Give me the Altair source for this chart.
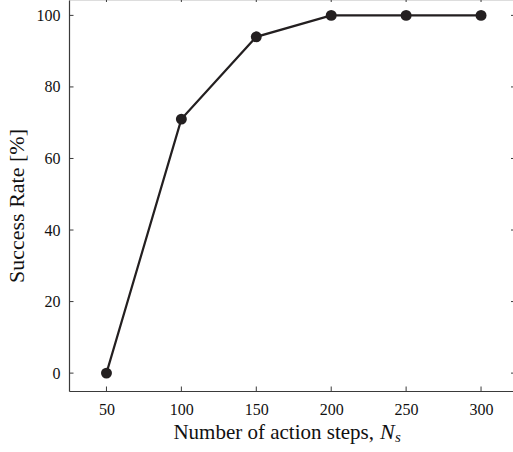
import altair as alt
import pandas as pd

steps = [50, 100, 150, 200, 250, 300]
success = [0, 71, 94, 100, 100, 100]
x_ticks = [50, 100, 150, 200, 250, 300]
y_ticks = [0, 20, 40, 60, 80, 100]
x_title_main = ["Number of action steps,"]
x_title_sym = ["N"]
x_title_sub = ["s"]
y_title = ["Success Rate [%]"]

W, H = 444, 391
FONT = "Liberation Serif"
INK = "#231f20"
AX = "#3a3a3a"

df = pd.DataFrame({"steps": steps, "success": success})
xt = pd.DataFrame({"steps": x_ticks})
yt = pd.DataFrame({"success": y_ticks})

xs = alt.Scale(domain=[25, 321.33], nice=False, zero=False)
ys = alt.Scale(domain=[-5, 104.3], nice=False, zero=False)

x_axis = alt.Axis(values=x_ticks, grid=False, ticks=False, tickSize=0, domainColor=AX, domainWidth=1.2,
                  labelFont=FONT, labelFontSize=16, labelColor="#111", labelPadding=10, title=None,
                  labelFlush=False)
y_axis = alt.Axis(values=y_ticks, grid=False, ticks=False, tickSize=0, domainColor=AX, domainWidth=1.2,
                  labelFont=FONT, labelFontSize=16, labelColor="#111", labelPadding=9, title=None,
                  labelFlush=False)

X = alt.X("steps:Q", scale=xs, axis=x_axis)
Y = alt.Y("success:Q", scale=ys, axis=y_axis)

base = alt.Chart(df)
line = base.mark_line(color=INK, strokeWidth=2.2).encode(x=X, y=Y)
pts = base.mark_circle(color=INK, size=120, opacity=1).encode(x=X, y=Y)

tick_len = 4.5
bt = alt.Chart(xt).mark_rule(color=AX, strokeWidth=1).encode(
    x=X, y=alt.value(H - tick_len), y2=alt.value(H))
tt = alt.Chart(xt).mark_rule(color=AX, strokeWidth=1).encode(
    x=X, y=alt.value(0), y2=alt.value(2))
lt = alt.Chart(yt).mark_rule(color=AX, strokeWidth=1).encode(
    y=Y, x=alt.value(0), x2=alt.value(tick_len))
rt = alt.Chart(yt).mark_rule(color=AX, strokeWidth=1).encode(
    y=Y, x=alt.value(W - 2), x2=alt.value(W))

t_main = alt.Chart(pd.DataFrame({"t": x_title_main})).mark_text(
    font=FONT, fontSize=21, color="#111", align="right", baseline="alphabetic").encode(
    text="t:N", x=alt.value(305), y=alt.value(439))
t_sym = alt.Chart(pd.DataFrame({"t": x_title_sym})).mark_text(
    font=FONT, fontSize=22, fontStyle="italic", color="#111", align="left", baseline="alphabetic").encode(
    text="t:N", x=alt.value(311), y=alt.value(439))
t_sub = alt.Chart(pd.DataFrame({"t": x_title_sub})).mark_text(
    font=FONT, fontSize=15, fontStyle="italic", color="#111", align="left", baseline="alphabetic").encode(
    text="t:N", x=alt.value(326), y=alt.value(441.5))
t_y = alt.Chart(pd.DataFrame({"t": y_title})).mark_text(
    font=FONT, fontSize=22, color="#111", align="center", baseline="alphabetic", angle=270).encode(
    text="t:N", x=alt.value(-45), y=alt.value(206))

chart = alt.layer(line, pts, bt, tt, lt, rt, t_main, t_sym, t_sub, t_y).properties(
    width=W, height=H,
    autosize=alt.AutoSizeParams(type="none"),
    padding={"left": 69, "top": 0, "right": 0, "bottom": 61},
).configure_view(stroke=None).configure(background="white")

chart.save("out.html", embed_options={"renderer": "svg", "actions": False})
